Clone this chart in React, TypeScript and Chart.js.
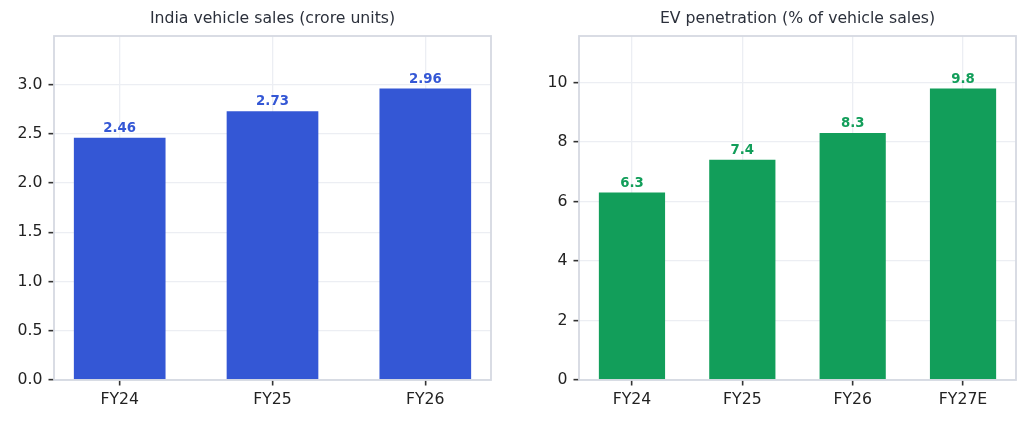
import React, { useEffect, useRef } from "react";
import { Chart, registerables } from "chart.js";

Chart.register(...registerables);

const salesTitle = "India vehicle sales (crore units)";
const salesCategories = ["FY24", "FY25", "FY26"];
const salesValues = [2.46, 2.73, 2.96];
const salesYTicks = [0, 0.5, 1, 1.5, 2, 2.5, 3];

const evTitle = "EV penetration (% of vehicle sales)";
const evCategories = ["FY24", "FY25", "FY26", "FY27E"];
const evValues = [6.3, 7.4, 8.3, 9.8];
const evYTicks = [0, 2, 4, 6, 8, 10];

const FONT = "'DejaVu Sans', sans-serif";

type PanelProps = {
  title: string;
  categories: string[];
  values: number[];
  yTicks: number[];
  yDecimals: number;
  labelDecimals: number;
  color: string;
  width: number;
  yAxisWidth: number;
  rightPad: number;
};

function Panel(p: PanelProps) {
  const ref = useRef<HTMLCanvasElement | null>(null);
  useEffect(() => {
    if (!ref.current) return;
    const n = p.categories.length;
    const pad = 0.05 * (n - 1 + 0.6);
    const frame = {
      id: "frame",
      afterDatasetsDraw(chart: any) {
        const { ctx, chartArea: a } = chart;
        ctx.save();
        ctx.strokeStyle = "#d5d9e2";
        ctx.lineWidth = 1.8;
        ctx.strokeRect(a.left, a.top, a.right - a.left, a.bottom - a.top);
        ctx.restore();
        const meta = chart.getDatasetMeta(0);
        ctx.save();
        ctx.font = `bold 13.3px ${FONT}`;
        ctx.fillStyle = p.color;
        ctx.textAlign = "center";
        ctx.textBaseline = "alphabetic";
        meta.data.forEach((el: any, i: number) => {
          ctx.fillText(p.values[i].toFixed(p.labelDecimals), el.x, el.y - 5.7);
        });
        ctx.restore();
      },
    };
    const chart = new Chart(ref.current, {
      type: "bar",
      data: {
        datasets: [
          {
            data: p.values.map((v, i) => ({ x: i, y: v })),
            backgroundColor: p.color,
            borderWidth: 0,
            categoryPercentage: 1,
            barPercentage: 0.6,
          },
        ],
      },
      options: {
        responsive: false,
        animation: false,
        layout: { padding: { left: 0, right: p.rightPad, top: 0, bottom: 0 } },
        plugins: {
          legend: { display: false },
          tooltip: { enabled: false },
          title: {
            display: true,
            text: p.title,
            fullSize: false,
            color: "#2b303b",
            font: { family: FONT, size: 15.7, weight: "normal" },
            padding: { top: 10, bottom: 7.16 },
          },
        },
        scales: {
          x: {
            type: "linear",
            offset: false,
            min: -0.3 - pad,
            max: n - 1 + 0.3 + pad,
            afterBuildTicks: (s: any) => {
              s.ticks = p.categories.map((_, i) => ({ value: i }));
            },
            afterFit: (s: any) => {
              s.height = 43;
            },
            ticks: {
              callback: (v: any) => p.categories[v] ?? "",
              color: "#222",
              font: { family: FONT, size: 15.7 },
              padding: 5,
              maxRotation: 0,
              autoSkip: false,
            },
            grid: {
              offset: false,
              color: "#eceef3",
              lineWidth: 1.3,
              tickColor: "#333",
              tickWidth: 1.6,
              tickLength: 5.5,
              drawTicks: true,
            },
            border: { display: false },
          },
          y: {
            type: "linear",
            min: 0,
            max: Math.max(...p.values) * 1.18,
            afterBuildTicks: (s: any) => {
              s.ticks = p.yTicks.map((v) => ({ value: v }));
            },
            afterFit: (s: any) => {
              s.width = p.yAxisWidth;
            },
            ticks: {
              callback: (v: any) => Number(v).toFixed(p.yDecimals),
              color: "#222",
              font: { family: FONT, size: 15.7 },
              padding: 6,
            },
            grid: {
              color: "#eceef3",
              lineWidth: 1.3,
              tickColor: "#333",
              tickWidth: 1.6,
              tickLength: 5.5,
            },
            border: { display: false },
          },
        },
      },
      plugins: [frame],
    } as any);
    return () => chart.destroy();
  }, []);
  return (
    <canvas
      ref={ref}
      width={p.width}
      height={423}
      style={{ width: p.width, height: 423, display: "block" }}
    />
  );
}

export default function App() {
  return (
    <div
      style={{
        position: "absolute",
        left: 0,
        top: 0,
        width: 1029,
        height: 423,
        display: "flex",
        background: "#fff",
      }}
    >
      <Panel
        title={salesTitle}
        categories={salesCategories}
        values={salesValues}
        yTicks={salesYTicks}
        yDecimals={1}
        labelDecimals={2}
        color="#3457d5"
        width={514}
        yAxisWidth={54}
        rightPad={23}
      />
      <Panel
        title={evTitle}
        categories={evCategories}
        values={evValues}
        yTicks={evYTicks}
        yDecimals={0}
        labelDecimals={1}
        color="#129e5a"
        width={515}
        yAxisWidth={65}
        rightPad={13}
      />
    </div>
  );
}
